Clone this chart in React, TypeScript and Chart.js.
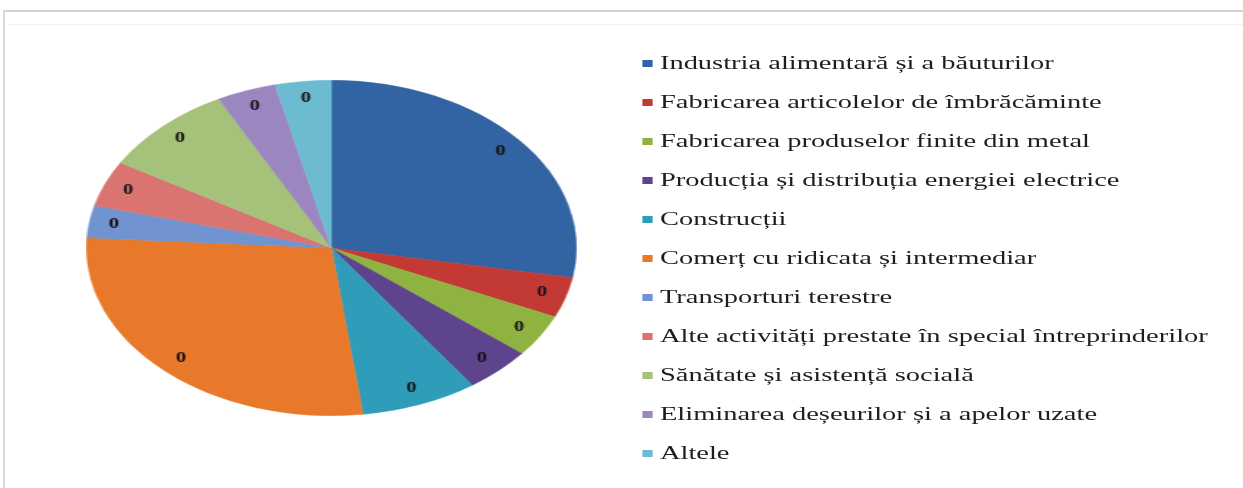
import React, { useEffect, useRef } from "react";
import { Chart, registerables } from "chart.js";

Chart.register(...registerables);

const categories: string[] = [
  "Industria alimentară și a băuturilor",
  "Fabricarea articolelor de îmbrăcăminte",
  "Fabricarea produselor finite din metal",
  "Producția și distribuția energiei electrice",
  "Construcții",
  "Comerț cu ridicata și intermediar",
  "Transporturi terestre",
  "Alte activități prestate în special întreprinderilor",
  "Sănătate și asistență socială",
  "Eliminarea deșeurilor și a apelor uzate",
  "Altele",
];

const values: number[] = [27.8, 3.9, 4.1, 4.4, 7.7, 28.0, 3.1, 4.4, 8.9, 3.9, 3.7];

const dataLabels: string[] = ["0", "0", "0", "0", "0", "0", "0", "0", "0", "0", "0"];

const colors: string[] = [
  "#3263A3",
  "#C23A33",
  "#8FB340",
  "#5E438D",
  "#2F9DBA",
  "#E8792A",
  "#7193D0",
  "#D97470",
  "#A5C27A",
  "#9C86BF",
  "#6DBBD0",
];

const SX = 1.46;
const RADIUS = 168;
const CX = 331 / SX;
const CY = 248;

const labelPlugin = {
  id: "sliceLabels",
  afterDatasetsDraw(chart: any) {
    const ctx = chart.ctx;
    const meta = chart.getDatasetMeta(0);
    ctx.save();
    ctx.font = "bold 14px 'Liberation Serif', serif";
    ctx.fillStyle = "#141414";
    ctx.textAlign = "center";
    ctx.textBaseline = "middle";
    meta.data.forEach((arc: any, i: number) => {
      const p = arc.getProps(["x", "y", "startAngle", "endAngle", "outerRadius"], true);
      const mid = (p.startAngle + p.endAngle) / 2;
      const r = p.outerRadius * 0.9;
      ctx.fillText(dataLabels[i], p.x + Math.cos(mid) * r, p.y + Math.sin(mid) * r);
    });
    ctx.restore();
  },
};

export default function App() {
  const canvasRef = useRef<HTMLCanvasElement | null>(null);

  useEffect(() => {
    if (!canvasRef.current) return;
    const chart = new Chart(canvasRef.current, {
      type: "pie",
      data: {
        labels: categories,
        datasets: [
          {
            data: values,
            backgroundColor: colors,
            borderColor: colors,
            borderWidth: 0.5,
          },
        ],
      },
      options: {
        animation: false,
        responsive: false,
        maintainAspectRatio: false,
        layout: { padding: 0 },
        plugins: {
          legend: { display: false },
          tooltip: { enabled: false },
        },
      },
      plugins: [labelPlugin],
    });
    return () => chart.destroy();
  }, []);

  return (
    <div
      style={{
        position: "fixed",
        left: 0,
        top: 0,
        width: 1243,
        height: 488,
        overflow: "hidden",
        background: "#ffffff",
      }}
    >
      <div
        style={{
          position: "absolute",
          left: 3,
          top: 10,
          width: 1260,
          height: 500,
          borderTop: "2px solid #d4d4d4",
          borderLeft: "2px solid #dadada",
        }}
      />
      <div
        style={{
          position: "absolute",
          left: 8,
          top: 24,
          width: 1240,
          height: 1,
          background: "#f0f0f0",
        }}
      />
      <div
        style={{
          position: "absolute",
          left: 0,
          top: 0,
          width: 1243 / SX,
          height: 488,
          transform: `scaleX(${SX})`,
          transformOrigin: "0 0",
        }}
      >
        <canvas
          ref={canvasRef}
          width={RADIUS * 2}
          height={RADIUS * 2}
          style={{
            position: "absolute",
            left: CX - RADIUS,
            top: CY - RADIUS,
            width: RADIUS * 2,
            height: RADIUS * 2,
          }}
        />
        {categories.map((c, i) => (
          <div
            key={c}
            style={{
              position: "absolute",
              left: 440,
              top: 63 + 39 * i - 12,
              height: 24,
              display: "flex",
              alignItems: "center",
              whiteSpace: "nowrap",
              fontFamily: "'Liberation Serif', 'Times New Roman', serif",
              fontSize: 19.5,
              color: "#1e1e1e",
            }}
          >
            <span
              style={{
                display: "inline-block",
                width: 7,
                height: 7,
                background: colors[i],
                marginRight: 5,
              }}
            />
            <span>{c}</span>
          </div>
        ))}
      </div>
    </div>
  );
}
